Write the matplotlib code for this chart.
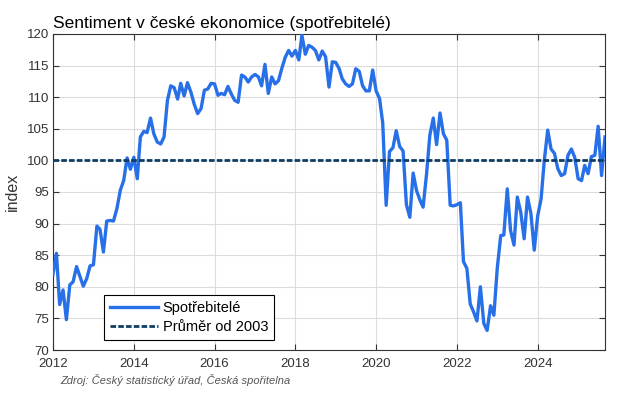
import matplotlib
matplotlib.use("Agg")
import matplotlib.pyplot as plt
import matplotlib.dates as mdates
import pandas as pd

# monthly consumer sentiment index, Jan 2012 - Sep 2025
start = "2012-01-01"
spotrebitele = [
    82.0, 85.3, 77.2, 79.5, 74.8, 80.3, 80.8, 83.2, 81.6, 80.1, 81.3, 83.3,
    83.5, 89.6, 89.1, 85.5, 90.4, 90.5, 90.4, 92.4, 95.3, 96.8, 100.4, 98.6,
    100.5, 97.1, 103.7, 104.6, 104.4, 106.7, 104.2, 102.9, 102.6, 103.7, 109.5, 111.8,
    111.5, 109.7, 112.2, 110.2, 112.3, 110.8, 108.9, 107.4, 108.2, 111.1, 111.3, 112.2,
    112.1, 110.3, 110.6, 110.4, 111.7, 110.5, 109.5, 109.2, 113.5, 113.2, 112.4, 113.2,
    113.6, 113.2, 111.8, 115.2, 110.6, 113.2, 112.1, 112.6, 114.6, 116.3, 117.4, 116.5,
    117.4, 115.9, 119.8, 116.8, 118.2, 117.9, 117.4, 115.9, 117.3, 116.4, 111.6, 115.6,
    115.5, 114.5, 112.9, 112.1, 111.7, 112.1, 114.5, 114.1, 111.8, 111.0, 111.0, 114.3,
    111.0, 109.8, 105.9, 92.9, 101.4, 102.0, 104.7, 102.2, 101.5, 93.0, 91.0, 98.0,
    95.2, 93.7, 92.6, 97.8, 104.0, 106.7, 102.5, 107.5, 104.2, 103.2, 92.9, 92.8,
    93.0, 93.3, 84.0, 82.9, 77.3, 76.0, 74.6, 80.0, 74.2, 73.1, 77.0, 75.5,
    83.0, 88.1, 88.2, 95.5, 88.9, 86.6, 94.2, 91.8, 87.6, 94.2, 91.6, 85.8,
    91.2, 93.9, 100.0, 104.8, 101.8, 101.1, 98.7, 97.6, 97.9, 100.8, 101.8, 100.5,
    97.1, 96.8, 99.2, 97.9, 100.6, 100.8, 105.4, 97.6, 103.7,
]
prumer_od_2003 = 100.0

dates = pd.date_range(start, periods=len(spotrebitele), freq="MS")

plt.rcParams["font.family"] = ["Liberation Sans", "DejaVu Sans"]

fig = plt.figure(figsize=(6.25, 3.99), dpi=100)
ax = fig.add_axes([0.0848, 0.1228, 0.8832, 0.792])

ax.plot(dates, spotrebitele, color="#2870e8", lw=2.4, label="Spotřebitelé", zorder=3)
ax.plot([dates[0], dates[-1]], [prumer_od_2003, prumer_od_2003], color="#0d3d63",
        lw=2.0, dashes=(2.0, 0.8), label="Průměr od 2003", zorder=4)

ax.set_xlim(dates[0], dates[-1])
ax.set_ylim(70, 120)
ax.set_yticks(range(70, 121, 5))
ax.xaxis.set_major_locator(mdates.YearLocator(2))
ax.xaxis.set_major_formatter(mdates.DateFormatter("%Y"))

ax.grid(True, color="#dcdcdc", lw=0.8)
ax.set_axisbelow(True)
ax.tick_params(direction="in", top=True, right=True, labelsize=9.5,
               colors="#333333", length=4, width=0.8)
ax.tick_params(axis="x", pad=6)
ax.tick_params(axis="y", pad=3)
for s in ax.spines.values():
    s.set_color("#333333")
    s.set_linewidth(0.8)

ax.set_ylabel("index", fontsize=11.5, color="#333333", labelpad=5)
ax.set_title("Sentiment v české ekonomice (spotřebitelé)", loc="left",
             fontsize=12.5, pad=4, x=0.0)

leg = ax.legend(loc="lower left", bbox_to_anchor=(0.08, 0.01), fontsize=10.5,
                frameon=True, fancybox=False, edgecolor="black", framealpha=1,
                handlelength=3.3, borderpad=0.4, labelspacing=0.35,
                handletextpad=0.3)
leg.get_frame().set_linewidth(0.8)

fig.text(0.096, 0.037, "Zdroj: Český statistický úřad, Česká spořitelna",
         fontsize=8, style="italic", color="#555555")

fig.savefig("out.png", dpi=100)
